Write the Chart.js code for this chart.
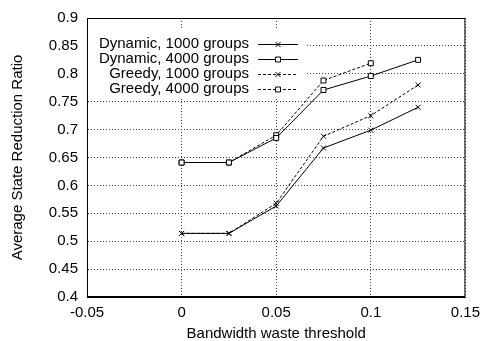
<!DOCTYPE html>
<html>
<head>
<meta charset="utf-8">
<script src="https://cdn.jsdelivr.net/npm/chart.js@4"></script>
<style>
  html, body { margin: 0; padding: 0; background: #fff; }
  #wrap { width: 487px; height: 341px; }
</style>
</head>
<body>
<div id="wrap"><canvas id="chart"></canvas></div>
<script>
// data
const thresholds = [0, 0.025, 0.05, 0.075, 0.1, 0.125];
const dynamic1000 = [0.514, 0.514, 0.563, 0.667, 0.699, 0.740];
const dynamic4000 = [0.641, 0.641, 0.685, 0.771, 0.796, 0.825];
const greedy1000 = [0.514, 0.514, 0.568, 0.688, 0.725, 0.780];
const greedy4000 = [0.641, 0.641, 0.690, 0.788, 0.819];
const seriesNames = ["Dynamic, 1000 groups", "Dynamic, 4000 groups", "Greedy, 1000 groups", "Greedy, 4000 groups"];
const xTickLabels = ["-0.05", "0", "0.05", "0.1", "0.15"];
const yTickLabels = ["0.4", "0.45", "0.5", "0.55", "0.6", "0.65", "0.7", "0.75", "0.8", "0.85", "0.9"];

const FONT = "'Liberation Sans', Arial, Helvetica, sans-serif";
const FS = 15;

function pts(values) {
    return values.map(function (v, i) { return { x: thresholds[i], y: v }; });
}

function makeSet(label, values, marker, dashed) {
    return {
        label: label,
        data: pts(values),
        borderColor: "#000",
        backgroundColor: "#fff",
        borderWidth: 1,
        borderDash: dashed ? [3, 2] : [],
        pointStyle: marker,
        pointRadius: 3.5,
        pointBorderWidth: 1,
        pointBorderColor: "#000",
        pointBackgroundColor: "#fff",
        tension: 0
    };
}

// gnuplot style key: opaque box, right aligned text, sample on the right
const keyPlugin = {
    id: "gnuKey",
    beforeDatasetsDraw(chart) {
        const ctx = chart.ctx;
        const a = chart.chartArea;
        ctx.save();
        ctx.fillStyle = "#fff";
        ctx.fillRect(a.left + 1, 30, 305 - a.left, 67);
        ctx.restore();
    },
    afterDraw(chart) {
        const ctx = chart.ctx;
        const a = chart.chartArea;
        ctx.save();
        // frame
        ctx.strokeStyle = "#000";
        ctx.lineWidth = 1;
        ctx.setLineDash([]);
        ctx.strokeRect(a.left + 0.5, a.top + 0.5, a.right - a.left - 1, a.bottom - a.top - 1);
        ctx.font = FS + "px " + FONT;
        ctx.textAlign = "right";
        ctx.textBaseline = "middle";
        chart.data.datasets.forEach(function (ds, i) {
            const y = 44 + i * 15;
            ctx.fillStyle = "#000";
            ctx.fillText(ds.label, 249, y);
            ctx.beginPath();
            ctx.setLineDash(ds.borderDash);
            ctx.moveTo(258, y + 0.5);
            ctx.lineTo(298, y + 0.5);
            ctx.stroke();
            ctx.setLineDash([]);
            ctx.fillStyle = "#fff";
            ctx.strokeStyle = "#000";
            Chart.helpers.drawPoint(ctx, {
                pointStyle: ds.pointStyle, radius: 3.5, borderWidth: 1
            }, 278, y + 0.5);
        });
        ctx.restore();
    }
};

const gridStyle = { color: "#444", drawTicks: false };
const borderStyle = { display: true, color: "#000", width: 1, dash: [1, 2] };

new Chart(document.getElementById("chart"), {
    type: "line",
    data: {
        datasets: [
            makeSet(seriesNames[0], dynamic1000, "crossRot", false),
            makeSet(seriesNames[1], dynamic4000, "rect", false),
            makeSet(seriesNames[2], greedy1000, "crossRot", true),
            makeSet(seriesNames[3], greedy4000, "rect", true)
        ]
    },
    options: {
        responsive: true,
        maintainAspectRatio: false,
        animation: false,
        layout: { padding: { left: 0, right: 20, top: 16, bottom: 0 } },
        plugins: {
            legend: { display: false },
            tooltip: { enabled: false }
        },
        scales: {
            x: {
                type: "linear",
                min: -0.05,
                max: 0.15,
                afterFit: function (s) { s.height = 44; },
                ticks: {
                    stepSize: 0.05,
                    padding: 7,
                    color: "#000",
                    font: { family: FONT, size: FS },
                    maxRotation: 0,
                    callback: function (v, i) { return xTickLabels[i]; }
                },
                grid: gridStyle,
                border: borderStyle,
                title: {
                    display: true,
                    text: "Bandwidth waste threshold",
                    color: "#000",
                    font: { family: FONT, size: FS, lineHeight: 1 },
                    padding: { top: 0, bottom: 0 }
                }
            },
            y: {
                min: 0.4,
                max: 0.9,
                afterFit: function (s) { s.width = 87; },
                ticks: {
                    stepSize: 0.05,
                    padding: 9,
                    color: "#000",
                    font: { family: FONT, size: FS },
                    callback: function (v, i) { return yTickLabels[i]; }
                },
                grid: gridStyle,
                border: borderStyle,
                title: {
                    display: true,
                    text: "Average State Reduction Ratio",
                    color: "#000",
                    font: { family: FONT, size: FS, lineHeight: 1 },
                    padding: { top: 10, bottom: 0 }
                }
            }
        }
    },
    plugins: [keyPlugin]
});
</script>
</body>
</html>
